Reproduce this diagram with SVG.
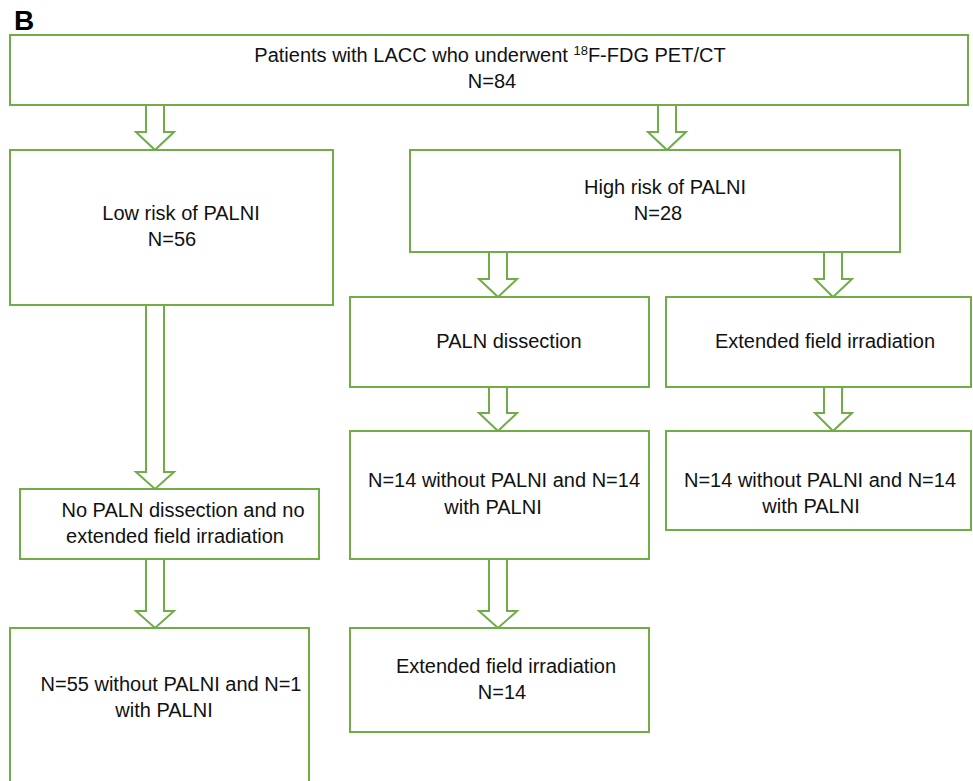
<svg xmlns="http://www.w3.org/2000/svg" width="973" height="781" viewBox="0 0 973 781">
<style>
.box{fill:#fff;stroke:#70AD47;stroke-width:2}
.arr{fill:#fff;stroke:#70AD47;stroke-width:2;stroke-linejoin:miter}
text{font-family:"Liberation Sans",Arial,sans-serif;font-size:20px;fill:#111}
.c{text-anchor:middle}
</style>
<rect width="973" height="781" fill="#fff"/>
<text x="14" y="30" style="font-size:28px;font-weight:bold;fill:#000">B</text>
<g id="connectors">
<path class="arr" d="M146 105 V132 H136 L155 150 L174 132 H164 V105"/>
<path class="arr" d="M658 105 V132 H648 L667 150 L686 132 H676 V105"/>
<path class="arr" d="M489 252 V279 H479 L498 297 L517 279 H507 V252"/>
<path class="arr" d="M824 252 V279 H815 L833 297 L852 279 H842 V252"/>
<path class="arr" d="M489 387 V413 H479 L498 431 L517 413 H507 V387"/>
<path class="arr" d="M824 387 V413 H815 L833 431 L852 413 H842 V387"/>
<path class="arr" d="M489 559 V611 H479 L498 628 L517 611 H507 V559"/>
<path class="arr" d="M146 305 V472 H136 L155 489 L174 472 H164 V305"/>
<path class="arr" d="M146 559 V611 H136 L155 628 L174 611 H164 V559"/>
</g>
<g id="top">
<rect class="box" x="10" y="35" width="958" height="70"/>
<text class="c" x="490" y="62">Patients with LACC who underwent <tspan style="font-size:13px" dy="-7">18</tspan><tspan dy="7">F-FDG PET/CT</tspan></text>
<text class="c" x="492" y="88">N=84</text>
</g>
<g id="low">
<rect class="box" x="10" y="150" width="323" height="155"/>
<text class="c" x="181" y="220">Low risk of PALNI</text>
<text class="c" x="172" y="246">N=56</text>
</g>
<g id="high">
<rect class="box" x="410" y="150" width="490" height="102"/>
<text class="c" x="665" y="194">High risk of PALNI</text>
<text class="c" x="658" y="220">N=28</text>
</g>
<g id="paln">
<rect class="box" x="350" y="297" width="299" height="90"/>
<text class="c" x="509" y="348">PALN dissection</text>
</g>
<g id="ext">
<rect class="box" x="666" y="297" width="305" height="90"/>
<text class="c" x="825" y="348">Extended field irradiation</text>
</g>
<g id="n14mid">
<rect class="box" x="350" y="431" width="299" height="128"/>
<text class="c" x="504" y="487">N=14 without PALNI and N=14</text>
<text class="c" x="493" y="514">with PALNI</text>
</g>
<g id="n14right">
<rect class="box" x="666" y="431" width="305" height="99"/>
<text class="c" x="820" y="487">N=14 without PALNI and N=14</text>
<text class="c" x="811" y="513">with PALNI</text>
</g>
<g id="nopaln">
<rect class="box" x="20" y="489" width="299" height="70"/>
<text class="c" x="183" y="517">No PALN dissection and no</text>
<text class="c" x="175" y="543">extended field irradiation</text>
</g>
<g id="extn14">
<rect class="box" x="350" y="628" width="299" height="104"/>
<text class="c" x="506" y="673">Extended field irradiation</text>
<text class="c" x="502" y="699">N=14</text>
</g>
<g id="n55">
<rect class="box" x="10" y="628" width="299" height="175"/>
<text class="c" x="171" y="691">N=55 without PALNI and N=1</text>
<text class="c" x="164" y="717">with PALNI</text>
</g>
</svg>
